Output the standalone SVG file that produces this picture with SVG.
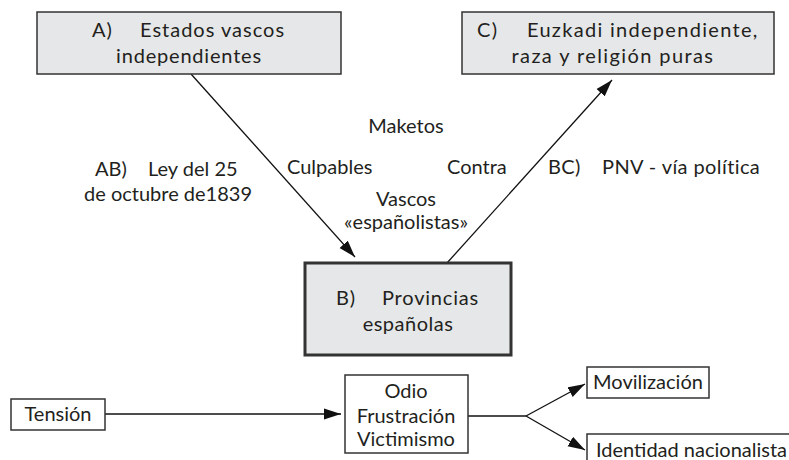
<svg xmlns="http://www.w3.org/2000/svg" width="789" height="460" viewBox="0 0 789 460">
<style>
text{font-family:Lato,"Open Sans","Liberation Sans",sans-serif;font-size:20px;fill:#231f20}
.big{fill:#e6e7e8;stroke:#333;stroke-width:1.5}
.bigb{fill:#e6e7e8;stroke:#333;stroke-width:3}
.sm{fill:#fff;stroke:#333;stroke-width:1.5}
.ln{fill:none;stroke:#111;stroke-width:1.3}
.c{text-anchor:middle}
</style>
<defs>
<marker id="ah" markerUnits="userSpaceOnUse" markerWidth="18" markerHeight="12" refX="17" refY="6" orient="auto">
<path d="M0,0.5 L17,6 L0,11.5 z" fill="#111"/>
</marker>
</defs>
<rect width="789" height="460" fill="#fff"/>
<g id="connectors">
<line class="ln" x1="191" y1="74" x2="355" y2="257" marker-end="url(#ah)"/>
<line class="ln" x1="447" y1="263" x2="612" y2="80" marker-end="url(#ah)"/>
<line class="ln" x1="105" y1="414" x2="341" y2="414" marker-end="url(#ah)"/>
<polyline class="ln" points="468,416 526,416"/>
<line class="ln" x1="526" y1="416" x2="585" y2="384" marker-end="url(#ah)"/>
<line class="ln" x1="526" y1="416" x2="585" y2="450" marker-end="url(#ah)"/>
</g>
<g id="nodeA">
<rect class="big" x="37" y="12" width="304" height="62"/>
<text x="92" y="37" letter-spacing="1">A) <tspan x="140">Estados vascos</tspan></text>
<text class="c" x="189" y="63" letter-spacing="0.8">independientes</text>
</g>
<g id="nodeC">
<rect class="big" x="462" y="12" width="312" height="62"/>
<text x="477" y="37" letter-spacing="1.3">C) <tspan x="527">Euzkadi independiente,</tspan></text>
<text class="c" x="613" y="63" letter-spacing="1.4">raza y religión puras</text>
</g>
<g id="nodeB">
<rect class="bigb" x="305" y="263" width="206" height="92"/>
<text x="336" y="305" letter-spacing="0.8">B) <tspan x="382">Provincias</tspan></text>
<text class="c" x="408" y="331" letter-spacing="0.5">españolas</text>
</g>
<g id="labels">
<text class="c" x="406" y="133">Maketos</text>
<text x="287" y="174">Culpables</text>
<text x="447" y="174">Contra</text>
<text x="548" y="174" letter-spacing="0.4">BC) <tspan x="602">PNV - vía política</tspan></text>
<text x="95" y="176">AB) <tspan x="148">Ley del 25</tspan></text>
<text class="c" x="168" y="201">de octubre de1839</text>
<text class="c" x="406" y="206">Vascos</text>
<text class="c" x="406" y="229">«españolistas»</text>
</g>
<g id="nodeTension">
<rect class="sm" x="11" y="399" width="94" height="31"/>
<text class="c" x="58" y="421">Tensión</text>
</g>
<g id="nodeOdio">
<rect class="sm" x="345" y="375" width="123" height="78"/>
<text class="c" x="406" y="398">Odio</text>
<text class="c" x="406" y="423">Frustración</text>
<text class="c" x="406" y="446">Victimismo</text>
</g>
<g id="nodeMov">
<rect class="sm" x="587" y="367" width="122" height="31"/>
<text class="c" x="648" y="389">Movilización</text>
</g>
<g id="nodeIdent">
<rect class="sm" x="587" y="434" width="215" height="40"/>
<text x="596" y="457">Identidad nacionalista</text>
</g>
</svg>
